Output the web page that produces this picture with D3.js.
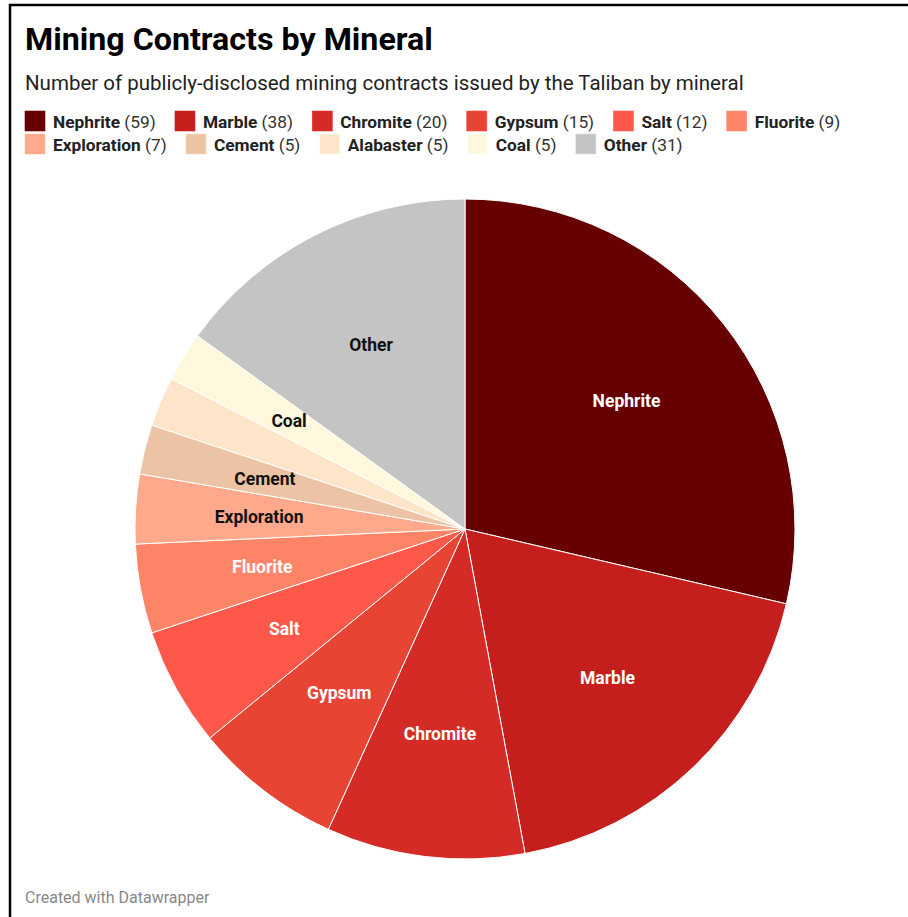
<!DOCTYPE html>
<html lang="en">
<head>
    <meta charset="UTF-8">
    <title>Mining Contracts by Mineral</title>
    <style>
        body { margin: 0; background: #fff; }
        svg { display: block; font-family: Roboto, sans-serif; }
        .slice { stroke: #fff; stroke-width: 1px; }
        .lbl { font-size: 17.5px; font-weight: 700; text-anchor: middle; }
    </style>
</head>
<body>
    <div id="chart"></div>
    <script src="https://d3js.org/d3.v7.min.js"></script>
    <script>
        "use strict";

        // data
        const minerals = ["Nephrite", "Marble", "Chromite", "Gypsum", "Salt", "Fluorite",
            "Exploration", "Cement", "Alabaster", "Coal", "Other"];
        const contracts = [59, 38, 20, 15, 12, 9, 7, 5, 5, 5, 31];
        const colors = ["#670000", "#c41f1c", "#d52b27", "#e84434", "#fd5849", "#fe8468",
            "#fea98b", "#edc3a5", "#fee5c9", "#fff8dd", "#c4c4c4"];
        // labels drawn in dark text, and ones left out (too small)
        const darkLabels = ["Exploration", "Cement", "Alabaster", "Coal", "Other"];
        const hiddenLabels = ["Alabaster"];

        const W = 908, H = 917;
        const cx = 465, cy = 529, R = 330;

        const data = minerals.map((m, i) => ({ name: m, value: contracts[i], color: colors[i] }));

        const svg = d3.select("#chart").append("svg")
            .attr("width", W)
            .attr("height", H);

        // frame lines (top + left)
        svg.append("line").attr("x1", 9).attr("x2", W).attr("y1", 5).attr("y2", 5)
            .attr("stroke", "#000").attr("stroke-width", 2.5);
        svg.append("line").attr("x1", 10).attr("x2", 10).attr("y1", 4).attr("y2", H)
            .attr("stroke", "#000").attr("stroke-width", 2.5);

        svg.append("text")
            .attr("x", 25).attr("y", 50)
            .style("font-size", "32.2px").style("font-weight", 700)
            .text("Mining Contracts by Mineral");

        svg.append("text")
            .attr("x", 25).attr("y", 90)
            .style("font-size", "20.5px").style("fill", "#222")
            .text("Number of publicly-disclosed mining contracts issued by the Taliban by mineral");

        // legend, flowing in rows
        const legend = svg.append("g");
        const maxX = 880;
        let lx = 25, ly = 111;
        data.forEach(function (d) {
            const g = legend.append("g");
            const t = g.append("text").attr("x", 28).attr("y", 16.5).style("font-size", "17.3px").style("fill", "#222");
            t.append("tspan").style("font-weight", 700).text(d.name);
            t.append("tspan").style("fill", "#333").text(" (" + d.value + ")");
            const w = 28 + t.node().getComputedTextLength();
            if (lx + w > maxX) { lx = 25; ly += 23; }
            g.attr("transform", "translate(" + lx + "," + ly + ")");
            g.insert("rect", "text")
                .attr("width", 20).attr("height", 20)
                .attr("fill", d.color)
                .attr("stroke", d3.color(d.color).brighter(0.3)).attr("stroke-width", 0.6);
            lx += w + 19.3;
        });

        // pie
        const pie = d3.pie().value(d => d.value).sort(null);
        const arc = d3.arc().innerRadius(0).outerRadius(R);
        const labelArc = d3.arc().innerRadius(R * 0.625).outerRadius(R * 0.625);

        const pg = svg.append("g").attr("transform", "translate(" + cx + "," + cy + ")");
        const arcs = pie(data);

        pg.selectAll("path.slice")
            .data(arcs)
            .enter().append("path")
            .attr("class", "slice")
            .attr("d", arc)
            .attr("fill", d => d.data.color);

        pg.selectAll("text.lbl")
            .data(arcs.filter(d => !hiddenLabels.includes(d.data.name)))
            .enter().append("text")
            .attr("class", "lbl")
            .attr("transform", d => "translate(" + labelArc.centroid(d) + ")")
            .attr("dy", "0.35em")
            .style("fill", d => darkLabels.includes(d.data.name) ? "#111" : "#fff")
            .text(d => d.data.name);

        svg.append("text")
            .attr("x", 25).attr("y", 903)
            .style("font-size", "16px").style("fill", "#888")
            .text("Created with Datawrapper");
    </script>
</body>
</html>
